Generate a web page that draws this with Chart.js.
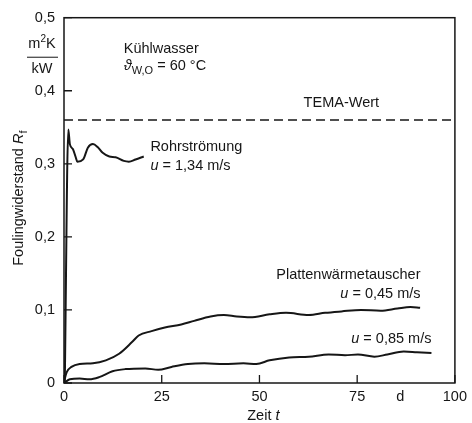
<!DOCTYPE html>
<html>
<head>
<meta charset="utf-8">
<script src="https://cdn.jsdelivr.net/npm/chart.js@4.4.0/dist/chart.umd.min.js"></script>
<style>
  html, body { margin: 0; padding: 0; background: #fff; }
</style>
</head>
<body>
<canvas id="fouling" width="472" height="423"></canvas>
<script>
// Zeit t in d, Foulingwiderstand R_f in m2K/kW
const rohrZeit = [0.2, 1.1, 1.5, 2.3, 3.0, 3.4, 4.9, 6.1, 7.4, 8.6, 9.9, 11.6, 13.2, 15.3, 16.6, 18.3, 20.4];
const rohrRf   = [0, 0.347, 0.327, 0.320, 0.309, 0.303, 0.306, 0.322, 0.327, 0.323, 0.315, 0.310, 0.309, 0.304, 0.303, 0.306, 0.310];

const platte045Zeit = [0, 0.7, 1.9, 4.0, 7.4, 10.7, 14.1, 17.4, 19.1, 22.4, 25.8, 30.0, 33.3, 37.5, 40.9, 44.2, 47.6, 52.6, 56.8, 62.6, 66.8, 71.0, 76.0, 81.0, 85.3, 88.6, 91.1];
const platte045Rf   = [0.002, 0.015, 0.022, 0.026, 0.027, 0.031, 0.040, 0.056, 0.065, 0.071, 0.076, 0.080, 0.085, 0.091, 0.093, 0.091, 0.090, 0.094, 0.096, 0.093, 0.096, 0.098, 0.100, 0.099, 0.102, 0.104, 0.103];

const platte085Zeit = [0, 1.5, 4.0, 6.5, 9.0, 12.4, 15.7, 20.8, 24.1, 27.5, 31.7, 35.9, 40.9, 45.9, 49.2, 52.6, 57.6, 62.6, 67.7, 71.9, 75.2, 79.4, 82.7, 86.9, 90.3, 94.0];
const platte085Rf   = [0, 0.005, 0.006, 0.005, 0.008, 0.016, 0.019, 0.020, 0.018, 0.022, 0.026, 0.027, 0.026, 0.027, 0.026, 0.031, 0.035, 0.036, 0.039, 0.038, 0.039, 0.036, 0.039, 0.043, 0.042, 0.041];

const temaWert = 0.36;

const xTickPos    = [0, 25, 50, 75, 86, 100];
const xTickLabels = ['0', '25', '50', '75', 'd', '100'];
const yTickPos    = [0, 0.1, 0.2, 0.3, 0.4, 0.5];
const yTickLabels = ['0', '0,1', '0,2', '0,3', '0,4', '0,5'];

const FONT = '"Liberation Sans", Arial, sans-serif';
const INK = '#161616';

function pts(xs, ys) {
  return xs.map((x, i) => ({ x: x, y: ys[i] }));
}

const lineStyle = {
  borderColor: INK,
  borderWidth: 2,
  pointRadius: 0,
  fill: false,
  cubicInterpolationMode: 'monotone'
};

// text pieces: [text, style] ; style: 'n' normal, 'i' italic, 'sub', 'sup'
const fonts = {
  n: '14.5px ' + FONT,
  i: 'italic 14.5px ' + FONT,
  sub: '11px ' + FONT,
  sup: '10px ' + FONT
};
function piecesWidth(ctx, pieces) {
  let total = 0;
  pieces.forEach(p => { ctx.font = fonts[p[1]]; total += ctx.measureText(p[0]).width; });
  return total;
}
function drawPieces(ctx, pieces, x, y, align) {
  const total = piecesWidth(ctx, pieces);
  let cx = x;
  if (align === 'right') cx = x - total;
  if (align === 'center') cx = x - total / 2;
  ctx.textAlign = 'left';
  pieces.forEach(p => {
    ctx.font = fonts[p[1]];
    let dy = 0;
    if (p[1] === 'sub') dy = 4;
    if (p[1] === 'sup') dy = -6;
    ctx.fillText(p[0], cx, y + dy);
    cx += ctx.measureText(p[0]).width;
  });
}

const decor = {
  id: 'decor',
  afterDraw(chart) {
    const { ctx, chartArea: a, scales: { x, y } } = chart;
    ctx.save();
    ctx.strokeStyle = INK;
    ctx.fillStyle = INK;

    // frame
    ctx.lineWidth = 1.5;
    ctx.strokeRect(a.left, a.top, a.right - a.left, a.bottom - a.top);

    // inward tick marks
    ctx.lineWidth = 1.3;
    ctx.beginPath();
    xTickPos.forEach((v, i) => {
      if (xTickLabels[i] === 'd') return;
      const px = x.getPixelForValue(v);
      ctx.moveTo(px, a.bottom);
      ctx.lineTo(px, a.bottom - 8);
    });
    yTickPos.forEach(v => {
      const py = y.getPixelForValue(v);
      ctx.moveTo(a.left, py);
      ctx.lineTo(a.left + 8, py);
    });
    ctx.stroke();

    ctx.textBaseline = 'alphabetic';

    // unit fraction between 0,5 and 0,4
    const ym = y.getPixelForValue(0.45);
    drawPieces(ctx, [['m', 'n'], ['2', 'sup'], ['K', 'n']], 42, ym - 6, 'center');
    ctx.beginPath();
    ctx.lineWidth = 1;
    ctx.moveTo(27, ym + 3);
    ctx.lineTo(58, ym + 3);
    ctx.stroke();
    drawPieces(ctx, [['kW', 'n']], 42, ym + 19, 'center');

    // axis titles
    drawPieces(ctx, [['Zeit ', 'n'], ['t', 'i']], x.getPixelForValue(51), 420, 'center');

    ctx.save();
    ctx.translate(23, y.getPixelForValue(0.253));
    ctx.rotate(-Math.PI / 2);
    drawPieces(ctx, [['Foulingwiderstand ', 'n'], ['R', 'i'], ['f', 'sub']], 0, 0, 'center');
    ctx.restore();

    // annotations
    const at = (xv, yv) => [x.getPixelForValue(xv), y.getPixelForValue(yv)];
    let p = at(15.3, 0.452);
    drawPieces(ctx, [['Kühlwasser', 'n']], p[0], p[1], 'left');
    p = at(15.3, 0.428);
    drawPieces(ctx, [['ϑ', 'i'], ['W,O', 'sub'], [' = 60 ', 'n'], ['°', 'n'], ['C', 'n']], p[0], p[1], 'left');
    p = at(61.3, 0.378);
    drawPieces(ctx, [['TEMA-Wert', 'n']], p[0], p[1], 'left');
    p = at(22.1, 0.317);
    drawPieces(ctx, [['Rohrströmung', 'n']], p[0], p[1], 'left');
    p = at(22.1, 0.292);
    drawPieces(ctx, [['u', 'i'], [' = 1,34 m/s', 'n']], p[0], p[1], 'left');
    p = at(91.2, 0.142);
    drawPieces(ctx, [['Plattenwärmetauscher', 'n']], p[0], p[1], 'right');
    p = at(91.2, 0.116);
    drawPieces(ctx, [['u', 'i'], [' = 0,45 m/s', 'n']], p[0], p[1], 'right');
    p = at(94.0, 0.055);
    drawPieces(ctx, [['u', 'i'], [' = 0,85 m/s', 'n']], p[0], p[1], 'right');

    ctx.restore();
  }
};

new Chart(document.getElementById('fouling'), {
  type: 'line',
  data: {
    datasets: [
      Object.assign({ label: 'TEMA-Wert', data: pts([0, 100], [temaWert, temaWert]) }, lineStyle, { borderWidth: 1.5, borderDash: [9, 5], cubicInterpolationMode: 'default', tension: 0 }),
      Object.assign({ label: 'Rohrströmung', data: pts(rohrZeit, rohrRf) }, lineStyle),
      Object.assign({ label: 'u = 0,45 m/s', data: pts(platte045Zeit, platte045Rf) }, lineStyle),
      Object.assign({ label: 'u = 0,85 m/s', data: pts(platte085Zeit, platte085Rf) }, lineStyle)
    ]
  },
  options: {
    responsive: false,
    animation: false,
    devicePixelRatio: 1,
    layout: { padding: { top: 11, right: 10, left: 0, bottom: 0 } },
    plugins: { legend: { display: false }, tooltip: { enabled: false } },
    scales: {
      x: {
        type: 'linear',
        min: 0,
        max: 100,
        afterBuildTicks: s => { s.ticks = xTickPos.map(v => ({ value: v })); },
        afterFit: s => { s.height = 40; },
        ticks: {
          autoSkip: false,
          maxRotation: 0,
          padding: 5,
          color: INK,
          font: { family: FONT, size: 14.5 },
          callback: (v, i) => xTickLabels[i]
        },
        grid: { display: false, drawTicks: false },
        border: { display: false }
      },
      y: {
        type: 'linear',
        min: 0,
        max: 0.5,
        afterBuildTicks: s => { s.ticks = yTickPos.map(v => ({ value: v })); },
        afterFit: s => { s.width = 64; },
        ticks: {
          autoSkip: false,
          padding: 9,
          color: INK,
          font: { family: FONT, size: 14.5 },
          callback: (v, i) => yTickLabels[i]
        },
        grid: { display: false, drawTicks: false },
        border: { display: false }
      }
    }
  },
  plugins: [decor]
});
</script>
</body>
</html>
